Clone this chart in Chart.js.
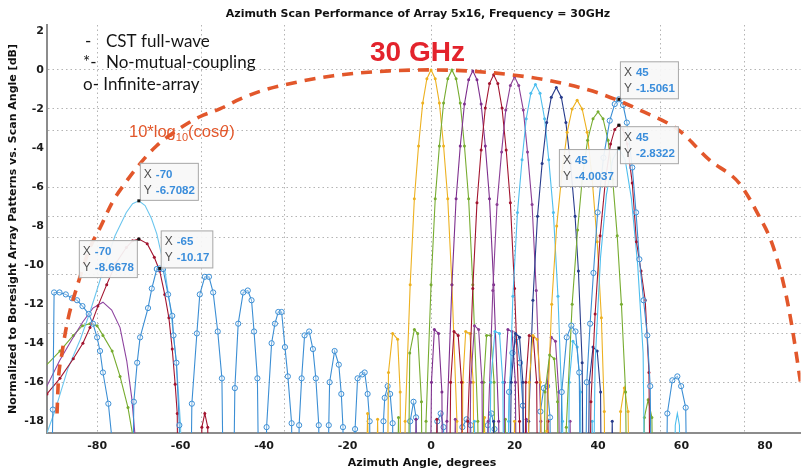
<!DOCTYPE html>
<html>
<head>
<meta charset="utf-8">
<script src="https://cdn.jsdelivr.net/npm/chart.js@4.4.1/dist/chart.umd.min.js"></script>
<style>
  html, body { margin: 0; padding: 0; background: #fff; }
  #wrap { width: 807px; height: 474px; }
</style>
</head>
<body>
<div id="wrap"><canvas id="chart" width="807" height="474"></canvas></div>
<script>
// axis ticks and the (odd) grid of the original figure
const xTickLabels = [-80, -60, -40, -20, 0, 20, 40, 60, 80];
const yTickLabels = [2, 0, -2, -4, -6, -8, -10, -12, -14, -16, -18];
const xGridLines = [-80, -55, -35, 0, 20, 55, 75];
const yGridLines = [0, -2, -3.1, -6, -7.5, -8.6, -10.5, -13, -13.5, -16];

// 10*log10(cos theta) envelope
const cosLoss = [[-89.6,-17.6],[-89.3,-16],[-88.4,-14.5],[-87,-12.8],[-84.8,-11.1],[-81.7,-9.1],[-79.3,-8.1],
  [-76.4,-6.8],[-73.3,-5.8],[-69.7,-4.8],[-65.8,-3.9],[-60.2,-3.0],[-55.4,-2.4],[-50.6,-2.0],[-45.8,-1.5],
  [-41,-1.1],[-31.5,-0.6],[-23.4,-0.3],[-10,-0.05],[0,0],[10,-0.07],[20,-0.27],[30,-0.62],[40.3,-1.2],
  [49.9,-2.05],[59.4,-3.1],[66.6,-4.6],[73.8,-5.8],[78.6,-7.5],[81.7,-8.9],[84.6,-11.1],[86.5,-13.2],[88.5,-16]];

// scanned beams (angle, dB)
const beam00 = [[-16.3,-30],[-15.2,-17.6],[-14.2,-30],[-13.6,-30],[-12.8,-17.9],[-12,-30],
  [-10.8,-30],[-10.2,-15.5],[-9.2,-13.5],[-8,-13.8],[-7.4,-16.5],[-7,-30],
  [-6.8,-30],[-6.2,-18],[-5,-11],[-4,-6.6],[-3,-3.9],[-2,-1.7],[-1,-0.45],[0,0],[1,-0.45],[2,-1.7],
  [3,-3.9],[4,-6.6],[5,-11],[6.2,-18],[6.8,-30],
  [7.2,-30],[7.6,-16],[8.3,-13.4],[9.3,-13.5],[10.1,-16],[10.6,-30],[12,-30],[12.8,-17.8],[13.6,-30]];
const beam05 = [[-8.6,-30],[-7.8,-17.8],[-7,-30],
  [-5.8,-30],[-5.1,-14.5],[-4,-13.3],[-3.2,-13.5],[-2.3,-17],[-1.9,-30],
  [-1.8,-30],[-1.2,-18],[0,-11],[1,-6.6],[2,-3.9],[3,-1.7],[4,-0.45],[5,0],[6,-0.45],[7,-1.7],[8,-3.9],
  [9,-6.6],[10,-11],[11.2,-18],[11.8,-30],
  [12.2,-30],[12.6,-16],[13.3,-13.6],[14.3,-13.6],[15.1,-16],[15.6,-30],[17,-30],[17.8,-17.9],[18.6,-30]];
const beam10 = [[-4.3,-30],[-3.6,-17.9],[-2.9,-30],
  [-0.6,-30],[0.1,-16],[0.8,-13.3],[1.8,-13.5],[2.6,-16.5],[3,-30],
  [3.2,-30],[3.8,-18],[5,-11],[6,-6.6],[7,-3.9],[8,-1.75],[9,-0.5],[10,-0.05],[11,-0.5],[12,-1.75],
  [13,-3.9],[14,-6.6],[15,-11],[16.2,-18],[16.8,-30],
  [17.2,-30],[17.6,-16],[18.4,-13.3],[19.4,-13.4],[20.2,-16],[20.7,-30],[22,-30],[22.8,-17.9],[23.6,-30]];
const beam15 = [[0.6,-30],[1.4,-17.9],[2.2,-30],
  [4,-30],[4.7,-16],[5.5,-13.4],[6.5,-13.6],[7.3,-16],[7.8,-30],
  [8.2,-30],[8.8,-18],[10,-11.2],[11,-6.8],[12,-4.1],[13,-1.95],[14,-0.7],[15,-0.25],[16,-0.7],[17,-1.95],
  [18,-4.1],[19,-6.8],[20,-11.2],[21.2,-18],[21.8,-30],
  [22.2,-30],[22.7,-16],[23.5,-13.6],[24.5,-13.7],[25.3,-16],[25.8,-30],[27.2,-30],[28,-18],[28.8,-30]];
const beam20 = [[5,-30],[5.8,-17.9],[6.6,-30],
  [8.8,-30],[9.5,-16],[10.4,-13.1],[11.4,-13.3],[12.2,-16],[12.7,-30],
  [13.1,-30],[13.7,-18],[14.8,-11.3],[15.8,-6.9],[16.9,-4.2],[17.9,-2.05],[19,-0.8],[20,-0.35],[21,-0.8],
  [22.1,-2.05],[23.1,-4.2],[24.2,-6.9],[25.2,-11.3],[26.3,-18],[26.9,-30],
  [27.3,-30],[27.9,-16],[28.8,-13.7],[29.8,-13.9],[30.6,-16.5],[31.1,-30],[32.5,-30],[33.3,-18],[34.1,-30]];
const beam25 = [[9.5,-30],[10.4,-18],[11.2,-30],
  [13.6,-30],[14.3,-16],[15.3,-13.4],[16.4,-13.5],[17.2,-16],[17.7,-30],
  [18.1,-30],[18.6,-18],[19.6,-11.6],[20.7,-7.3],[21.8,-4.6],[22.8,-2.5],[23.9,-1.2],[25,-0.75],[26.1,-1.2],
  [27.2,-2.5],[28.2,-4.6],[29.3,-7.3],[30.4,-11.6],[31.5,-18],[32.1,-30],
  [32.6,-30],[33.1,-16],[34,-13.9],[35,-14.2],[35.8,-16.5],[36.3,-30],[37.8,-30],[38.6,-18],[39.4,-30]];
const beam30 = [[14.2,-30],[15,-18],[15.8,-30],
  [18.4,-30],[19.2,-16],[20.2,-13.5],[21.2,-13.7],[22,-16],[22.5,-30],
  [22.8,-30],[23.4,-18],[24.4,-11.8],[25.5,-7.5],[26.6,-4.8],[27.7,-2.7],[28.8,-1.4],[30,-0.9],[31.2,-1.4],
  [32.3,-2.7],[33.4,-4.8],[34.5,-7.5],[35.3,-10.3],[36.2,-15],[36.7,-30],
  [37.3,-30],[37.9,-16],[38.8,-14.2],[39.8,-14.4],[40.6,-16.5],[41.1,-30],[42.6,-30],[43.4,-18],[44.2,-30]];
const beam35 = [[19.2,-30],[20,-18],[20.8,-30],
  [22.8,-30],[23.5,-16],[24.4,-13.6],[25.4,-13.8],[26.2,-16],[26.7,-30],
  [27.1,-30],[27.7,-18.5],[28.9,-12],[30.1,-8],[31.4,-5.2],[32.6,-3.2],[33.8,-2],[35,-1.55],[36.2,-2],
  [37.4,-3.2],[38.6,-5.6],[39.8,-8.8],[40.8,-12.7],[41.5,-17.5],[42,-30],
  [44.5,-30],[45.4,-17.5],[46.3,-16.3],[47.2,-17.5],[48,-30]];
const beam40 = [[26.5,-30],[27.3,-16.5],[28.4,-14.6],[29.5,-14.8],[30.3,-17],[30.8,-30],
  [31.6,-30],[32.4,-18.3],[33.8,-12],[35.1,-8.2],[36.3,-5.4],[37.5,-3.6],[38.8,-2.5],[40,-2.15],[41.2,-2.5],
  [42.4,-3.6],[43.5,-5.6],[44.6,-8.5],[45.6,-12],[46.6,-16.5],[47.3,-30],
  [50.3,-30],[51.1,-17.8],[52,-16.9],[52.9,-17.8],[53.6,-30]];
const beam45a = [[30.5,-30],[31.3,-16.5],[32.5,-13.7],[33.6,-13.1],[34.6,-13.4],[35.5,-15.5],[36.1,-30],
  [36.6,-30],[37.3,-16],[38.1,-13],[38.9,-10.4],[39.9,-7.3],[41.3,-4.5],[42.8,-2.6],[44,-1.75],[45,-1.5061],
  [46,-1.8],[46.9,-2.7],[48.2,-5],[49.1,-7.3],[49.9,-9.7],[50.9,-11.8],[51.8,-13.6],[52.5,-16.2],[53.1,-30],
  [55.9,-30],[56.6,-17.6],[57.8,-15.9],[59,-15.7],[59.9,-16.2],[61,-17.3],[61.8,-30]];
const beam45b = [[37.6,-30],[38.3,-17],[39.3,-12.5],[40.5,-8.5],[41.8,-5.6],[43,-3.8],[44,-3.05],[45,-2.8322],
  [46,-3.05],[47,-3.8],[48.2,-5.8],[49.2,-8.8],[50.3,-10.3],[51.3,-11.8],[52.2,-15.5],[52.8,-30]];
const beam45c = [[38.4,-30],[39.3,-15],[40.6,-9.6],[42,-6.4],[43.5,-4.6],[45,-4.0037],[46.5,-4.6],[48,-6.6],
  [49.5,-10],[50.8,-14.5],[51.6,-30],[58,-30],[58.5,-18.2],[59,-17.6],[59.5,-18.2],[60,-30]];

// beams scanned to the far left
const beamM70a = [[-92,-18.6],[-90,-17.4],[-87,-15.3],[-84,-13.8],[-81.7,-12.4],[-78.6,-10.3],[-75.7,-8.5],
  [-73,-7.3],[-71.5,-6.85],[-70,-6.7082],[-68.5,-6.95],[-67,-7.6],[-65.7,-8.4],[-63.8,-10.2],[-62.3,-12.4],
  [-61,-15],[-60,-18.2],[-59.5,-30]];
const beamM70b = [[-92,-16.6],[-88.9,-15.8],[-85.7,-14.8],[-83.4,-14],[-81.7,-13.2],[-79.8,-12.1],[-77.7,-11],
  [-75.5,-9.9],[-73,-9.1],[-71.5,-8.75],[-70,-8.6678],[-68,-8.9],[-66.3,-9.6],[-65,-10.3],[-63.8,-11.5],
  [-62.8,-12.7],[-62,-14.3],[-61.3,-16.1],[-60.8,-17.6],[-60.3,-30],
  [-55.6,-30],[-54.9,-18.3],[-54.2,-17.6],[-53.5,-18.3],[-52.8,-30]];
const beamM79 = [[-92.5,-16.4],[-89,-14.9],[-86,-13.8],[-83.4,-12.9],[-81,-12.2],[-78.6,-11.9],[-76.5,-12.3],
  [-74.5,-13.2],[-72.9,-14.9],[-71.7,-16.8],[-70.8,-19],[-70.3,-30]];
const beamM82 = [[-92.5,-15.2],[-88.9,-14.4],[-85.7,-13.6],[-83.5,-13.1],[-81.7,-13],[-80,-13.1],[-78.6,-13.6],
  [-76.4,-14.4],[-74.5,-15.7],[-72.6,-17.3],[-71.4,-18.8],[-70.8,-30]];
const infArray = [[-91.5,-30],[-90.6,-17.4],[-90.3,-11.4],[-89,-11.4],[-87.5,-11.5],[-86,-11.7],[-84.8,-11.8],
  [-83.5,-12.1],[-82,-12.5],[-81,-13],[-80,-13.7],[-79.3,-14.4],[-78.6,-15.5],[-77.3,-17.1],[-76.4,-19],[-75.8,-30],
  [-72,-30],[-71.2,-17],[-70.4,-15],[-69.7,-13.7],[-67.8,-12.2],[-66.9,-11.2],[-65.7,-10.2],[-65,-10.17],
  [-64.2,-10.2],[-63,-11.5],[-62,-12.6],[-61.7,-13.6],[-61,-15],[-60.3,-18.2],[-59.8,-30],
  [-58,-30],[-57.3,-17.1],[-56.1,-13.5],[-55.4,-11.5],[-54.2,-10.6],[-53.2,-10.6],[-52.2,-11.4],[-51.1,-13.4],
  [-50.1,-15.8],[-49.3,-30],
  [-47.8,-30],[-47,-16.3],[-46.2,-13],[-45,-11.4],[-43.9,-11.3],[-43,-11.8],[-42.4,-13.4],[-41.6,-15.8],[-40.8,-30],
  [-39.8,-30],[-39.4,-18.3],[-38.2,-14],[-37.4,-13],[-36.6,-12.4],[-35.8,-12.4],[-35,-14.2],[-34.3,-15.7],
  [-33.4,-18.1],[-33,-30],
  [-32,-30],[-31.6,-18.2],[-31,-15.8],[-30.3,-13.6],[-29.2,-13.4],[-28.3,-14.3],[-27.6,-15.8],[-26.9,-18.2],[-26.5,-30],
  [-25,-30],[-24.5,-18.2],[-24.3,-16],[-23.1,-14.4],[-22.1,-15.1],[-21.5,-16.6],[-21.1,-18.3],[-20.8,-30],
  [-18.8,-30],[-18.2,-18.4],[-17.6,-15.8],[-16.5,-15.6],[-15.9,-15.5],[-15.2,-16.6],[-14.7,-18],[-14.4,-30],
  [-12,-30],[-11.4,-18],[-11.1,-16.8],[-10.4,-16.2],[-9.8,-16.6],[-9.2,-18.1],[-8.8,-30],
  [-5.5,-30],[-5,-18],[-4.2,-17],[-3.6,-17.8],[-3,-30],
  [1,-30],[1.5,-18],[2.3,-17.6],[3,-18.3],[3.5,-30],[7,-30],[7.5,-18.3],[8.5,-17.9],[9.5,-18.2],[10,-30],
  [13,-30],[13.6,-18.2],[14.5,-17.6],[15.2,-18.4],[15.8,-30],
  [18,-30],[18.7,-16.5],[19.5,-14.5],[20.5,-13.7],[21.3,-15],[22,-17.2],[22.6,-30],
  [25.5,-30],[26.2,-17.5],[27,-16.3],[27.8,-16.2],[28.5,-17.8],[29,-30]];

// data tips
const tipX = [-70, -70, -65, 45, 45, 45];
const tipY = [-6.7082, -8.6678, -10.17, -1.5061, -2.8322, -4.0037];
const tipSide = ['ne', 'sw', 'ne', 'ne', 'se', 'sw'];

const FONT = '"Liberation Sans", Arial, sans-serif';
const BOLD = '"DejaVu Sans", Verdana, sans-serif';
const toXY = arr => arr.map(p => ({ x: p[0], y: p[1] }));

function beam(data, color, style) {
  const ds = {
    data: toXY(data), borderColor: color, borderWidth: 1.1, tension: 0,
    pointRadius: 0, pointHoverRadius: 0, clip: 0
  };
  if (style === 'dot') {
    ds.pointRadius = 1.5; ds.pointBackgroundColor = color; ds.pointBorderWidth = 0;
  } else if (style === 'circle') {
    ds.pointRadius = 2.6; ds.pointBackgroundColor = 'rgba(255,255,255,0.35)';
    ds.pointBorderColor = color; ds.pointBorderWidth = 1;
  }
  return ds;
}

const datasets = [
  { data: toXY(cosLoss), borderColor: '#E2572B', borderWidth: 3.6, borderDash: [11, 8],
    pointRadius: 0, cubicInterpolationMode: 'monotone', clip: 0 },
  beam(beam45a, '#3B8ED4', 'circle'),
  beam(beam45b, '#A2142F', 'dot'),
  beam(beam45c, '#4DBEEE', 'none'),
  beam(beam40, '#77AC30', 'dot'),
  beam(beam35, '#EDB120', 'dot'),
  beam(beam30, '#283C8C', 'dot'),
  beam(beam25, '#4DBEEE', 'dot'),
  beam(beam20, '#8B3F96', 'dot'),
  beam(beam15, '#A2142F', 'dot'),
  beam(beam10, '#7E2F8E', 'dot'),
  beam(beam05, '#77AC30', 'dot'),
  beam(beam00, '#EDB120', 'dot'),
  beam(infArray, '#3B8ED4', 'circle'),
  beam(beamM70b, '#A2142F', 'dot'),
  beam(beamM70a, '#6CC6EE', 'none'),
  beam(beamM79, '#8E44A0', 'none'),
  beam(beamM82, '#77AC30', 'dot')
];

const overlay = {
  id: 'overlay',
  afterDatasetsDraw(chart) {
    const { ctx } = chart;
    const xs = chart.scales.x, ys = chart.scales.y;
    ctx.save();
    tipX.forEach((tx, i) => {
      const px = xs.getPixelForValue(tx), py = ys.getPixelForValue(tipY[i]);
      ctx.font = 'bold 11.5px ' + FONT;
      const w = Math.max(ctx.measureText(String(tx)).width, ctx.measureText(String(tipY[i])).width) + 20;
      const h = 38;
      const side = tipSide[i];
      const bx = side.includes('e') ? px + 1 : px - w - 1;
      const by = side.startsWith('n') ? py - h : py + 1;
      ctx.fillStyle = 'rgba(248,248,248,0.93)';
      ctx.fillRect(bx, by, w, h);
      ctx.strokeStyle = '#a8a8a8';
      ctx.lineWidth = 1;
      ctx.strokeRect(bx + 0.5, by + 0.5, w - 1, h - 1);
      ctx.textBaseline = 'alphabetic';
      ctx.textAlign = 'left';
      ctx.font = '12px ' + FONT;
      ctx.fillStyle = '#505050';
      ctx.fillText('X', bx + 4, by + 15);
      ctx.fillText('Y', bx + 4, by + 31);
      ctx.font = 'bold 11.5px ' + FONT;
      ctx.fillStyle = '#3A8DDB';
      ctx.fillText(String(tx), bx + 16, by + 15);
      ctx.fillText(String(tipY[i]), bx + 16, by + 31);
      ctx.fillStyle = '#111';
      ctx.fillRect(px - 1.5, py - 1.5, 3, 3);
    });
    ctx.restore();
  },
  afterDraw(chart) {
    const { ctx } = chart;
    ctx.save();
    ctx.fillStyle = '#111';
    ctx.textBaseline = 'middle';
    ctx.textAlign = 'center';
    ctx.font = 'bold 11px ' + BOLD;
    ctx.fillText('Azimuth Scan Performance of Array 5x16, Frequency = 30GHz', 418, 14);
    ctx.font = 'bold 11px ' + BOLD;
    ctx.fillText('Azimuth Angle, degrees', 422, 463);
    ctx.save();
    ctx.translate(13, 229);
    ctx.rotate(-Math.PI / 2);
    ctx.font = 'bold 11px ' + BOLD;
    ctx.fillText('Normalized to Boresight Array Patterns vs. Scan Angle [dB]', 0, 0);
    ctx.restore();

    // legend notes
    ctx.textAlign = 'left';
    ctx.font = '17px Lato, "Open Sans", sans-serif';
    ctx.fillStyle = '#151515';
    ctx.fillText('-', 85, 42);
    ctx.fillText('CST full-wave', 106, 42);
    ctx.fillText('*-', 83, 63);
    ctx.fillText('No-mutual-coupling', 106, 63);
    ctx.fillText('o- Infinite-array', 83, 85);

    // 30 GHz
    ctx.textBaseline = 'alphabetic';
    ctx.font = 'bold 28px ' + FONT;
    ctx.fillStyle = '#E3232C';
    ctx.fillText('30 GHz', 370, 61);

    // envelope label
    ctx.fillStyle = '#E2572B';
    let x0 = 129;
    const base = 137;
    ctx.font = '16.5px ' + FONT;
    ctx.fillText('10*log', x0, base); x0 += ctx.measureText('10*log').width;
    ctx.font = '11px ' + FONT;
    ctx.fillText('10', x0, base + 4); x0 += ctx.measureText('10').width;
    ctx.font = '16.5px ' + FONT;
    ctx.fillText('(cos', x0, base); x0 += ctx.measureText('(cos').width;
    ctx.font = 'italic 16.5px ' + FONT;
    ctx.fillText('\u03B8', x0, base); x0 += ctx.measureText('\u03B8').width + 1;
    ctx.font = '16.5px ' + FONT;
    ctx.fillText(')', x0, base);
    ctx.restore();
  }
};

const tickFont = { family: BOLD, weight: 'bold', size: 11 };

new Chart(document.getElementById('chart'), {
  type: 'line',
  data: { datasets },
  options: {
    responsive: false,
    animation: false,
    devicePixelRatio: 1,
    layout: { padding: { top: 25, right: 6.5, left: 0, bottom: 0 } },
    plugins: { legend: { display: false }, title: { display: false }, tooltip: { enabled: false } },
    scales: {
      x: {
        type: 'linear', min: -92, max: 88.5,
        afterBuildTicks: s => {
          s.ticks = [...new Set([...xTickLabels, ...xGridLines])].sort((a, b) => a - b).map(v => ({ value: v }));
        },
        afterFit: s => { s.height = 41; },
        ticks: {
          autoSkip: false, maxRotation: 0, padding: 7, color: '#1a1a1a', font: tickFont,
          callback: v => xTickLabels.includes(v) ? String(v) : ''
        },
        grid: {
          drawTicks: false, lineWidth: 1,
          color: c => (c.tick && xGridLines.includes(c.tick.value)) ? '#b4b4b4' : 'rgba(0,0,0,0)'
        },
        border: { display: true, color: '#8c8c8c', width: 2, dash: [1.5, 3] }
      },
      y: {
        type: 'linear', min: -18.6, max: 2.3,
        afterBuildTicks: s => {
          s.ticks = [...new Set([...yTickLabels, ...yGridLines])].sort((a, b) => a - b).map(v => ({ value: v }));
        },
        afterFit: s => { s.width = 47; },
        ticks: {
          autoSkip: false, padding: 3, color: '#1a1a1a', font: tickFont,
          callback: v => yTickLabels.includes(v) ? String(v) : ''
        },
        grid: {
          drawTicks: false, lineWidth: 1,
          color: c => (c.tick && yGridLines.includes(c.tick.value)) ? '#b4b4b4' : 'rgba(0,0,0,0)'
        },
        border: { display: true, color: '#8c8c8c', width: 2, dash: [1.5, 3] }
      }
    }
  },
  plugins: [overlay]
});
</script>
</body>
</html>
